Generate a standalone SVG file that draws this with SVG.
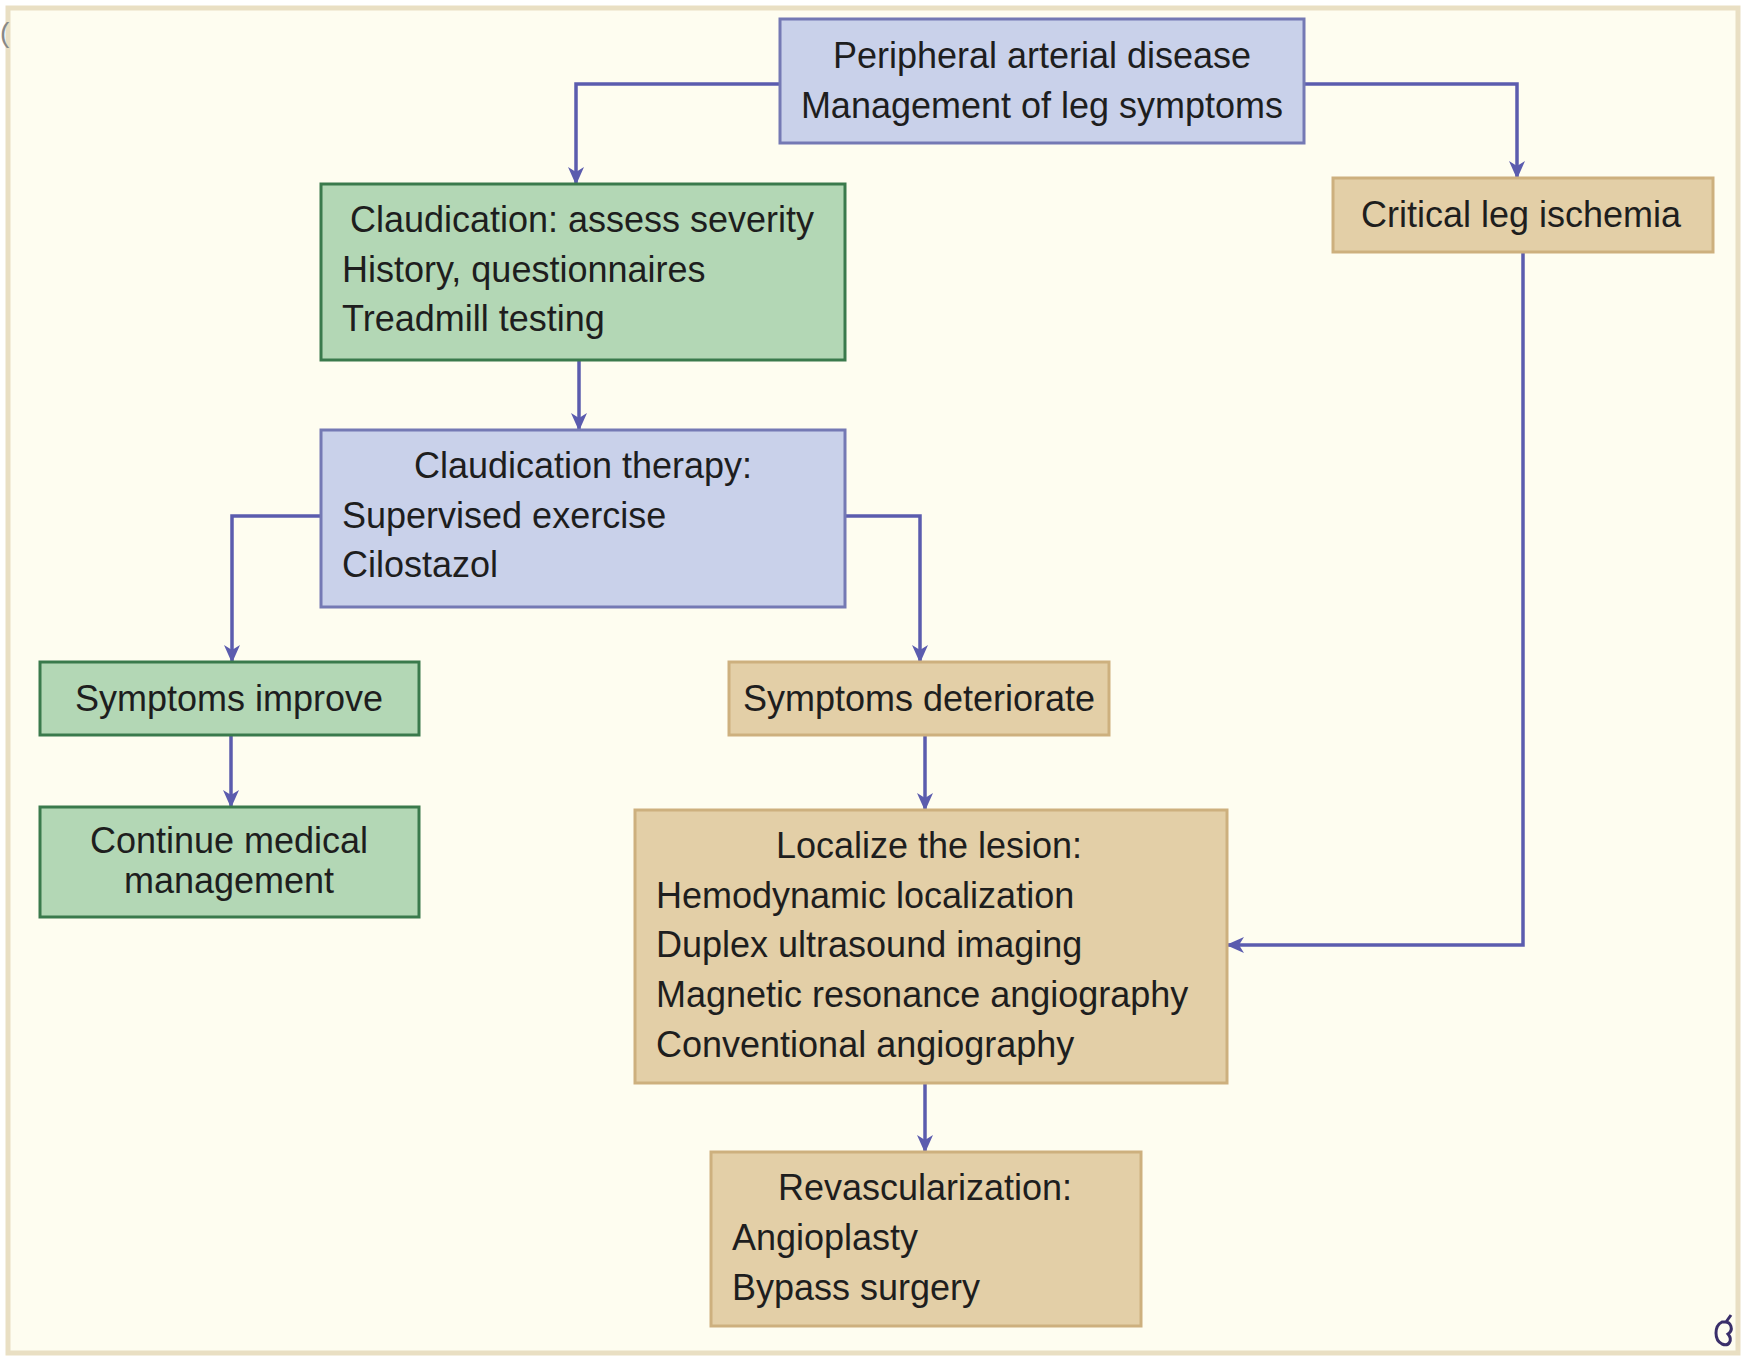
<svg xmlns="http://www.w3.org/2000/svg" width="1747" height="1356" viewBox="0 0 1747 1356">
<style>
text{font-family:"Liberation Sans",Arial,sans-serif;font-size:36px;fill:#1e1e1e}
.c{text-anchor:middle}
.blue{fill:#c9d1ea;stroke:#7479b4;stroke-width:3}
.green{fill:#b3d7b5;stroke:#3a7a4c;stroke-width:3}
.tan{fill:#e3cfa7;stroke:#cdb07e;stroke-width:3}
.conn path{fill:none;stroke:#5b5cae;stroke-width:3.5;marker-end:url(#ah)}
</style>
<defs>
<marker id="ah" markerWidth="18" markerHeight="16" viewBox="0 0 18 16" refX="17" refY="8" orient="auto" markerUnits="userSpaceOnUse">
<path d="M0,0 L18,8 L0,16 L5,8 Z" fill="#5b5cae"/>
</marker>
</defs>
<rect x="0" y="0" width="1747" height="1356" fill="#ffffff"/>
<rect x="8" y="8" width="1730" height="1345" fill="#fefdf0" stroke="#e9dfc3" stroke-width="5"/>
<text x="0" y="42" style="font-size:28px;fill:#888">(</text>

<g class="conn" id="connectors">
<path d="M780,84 H576 V184"/>
<path d="M1304,84 H1517 V178"/>
<path d="M579,360 V430"/>
<path d="M321,516 H232 V662"/>
<path d="M845,516 H920 V662"/>
<path d="M231,735 V807"/>
<path d="M925,735 V810"/>
<path d="M1523,252 V945 H1227"/>
<path d="M925,1083 V1152"/>
</g>

<g id="pad">
<rect class="blue" x="780" y="19" width="524" height="124"/>
<text class="c" x="1042" y="68">Peripheral arterial disease</text>
<text class="c" x="1042" y="118">Management of leg symptoms</text>
</g>

<g id="claudication">
<rect class="green" x="321" y="184" width="524" height="176"/>
<text class="c" x="582" y="232">Claudication: assess severity</text>
<text x="342" y="282">History, questionnaires</text>
<text x="342" y="331">Treadmill testing</text>
</g>

<g id="therapy">
<rect class="blue" x="321" y="430" width="524" height="177"/>
<text class="c" x="583" y="478">Claudication therapy:</text>
<text x="342" y="528">Supervised exercise</text>
<text x="342" y="577">Cilostazol</text>
</g>

<g id="improve">
<rect class="green" x="40" y="662" width="379" height="73"/>
<text class="c" x="229" y="711">Symptoms improve</text>
</g>

<g id="continue">
<rect class="green" x="40" y="807" width="379" height="110"/>
<text class="c" x="229" y="853">Continue medical</text>
<text class="c" x="229" y="893">management</text>
</g>

<g id="deteriorate">
<rect class="tan" x="729" y="662" width="380" height="73"/>
<text class="c" x="919" y="711">Symptoms deteriorate</text>
</g>

<g id="critical">
<rect class="tan" x="1333" y="178" width="380" height="74"/>
<text class="c" x="1521" y="227">Critical leg ischemia</text>
</g>

<g id="localize">
<rect class="tan" x="635" y="810" width="592" height="273"/>
<text class="c" x="929" y="858">Localize the lesion:</text>
<text x="656" y="908">Hemodynamic localization</text>
<text x="656" y="957">Duplex ultrasound imaging</text>
<text x="656" y="1007">Magnetic resonance angiography</text>
<text x="656" y="1057">Conventional angiography</text>
</g>

<g id="revasc">
<rect class="tan" x="711" y="1152" width="430" height="174"/>
<text class="c" x="925" y="1200">Revascularization:</text>
<text x="732" y="1250">Angioplasty</text>
<text x="732" y="1300">Bypass surgery</text>
</g>

<g id="logo">
<path d="M1722,1322 C1714,1326 1714,1340 1722,1344 C1729,1347 1733,1340 1728,1334 C1734,1330 1731,1321 1724,1322 Z M1726,1322 L1731,1315" fill="none" stroke="#3a2f6a" stroke-width="3"/>
</g>
</svg>
